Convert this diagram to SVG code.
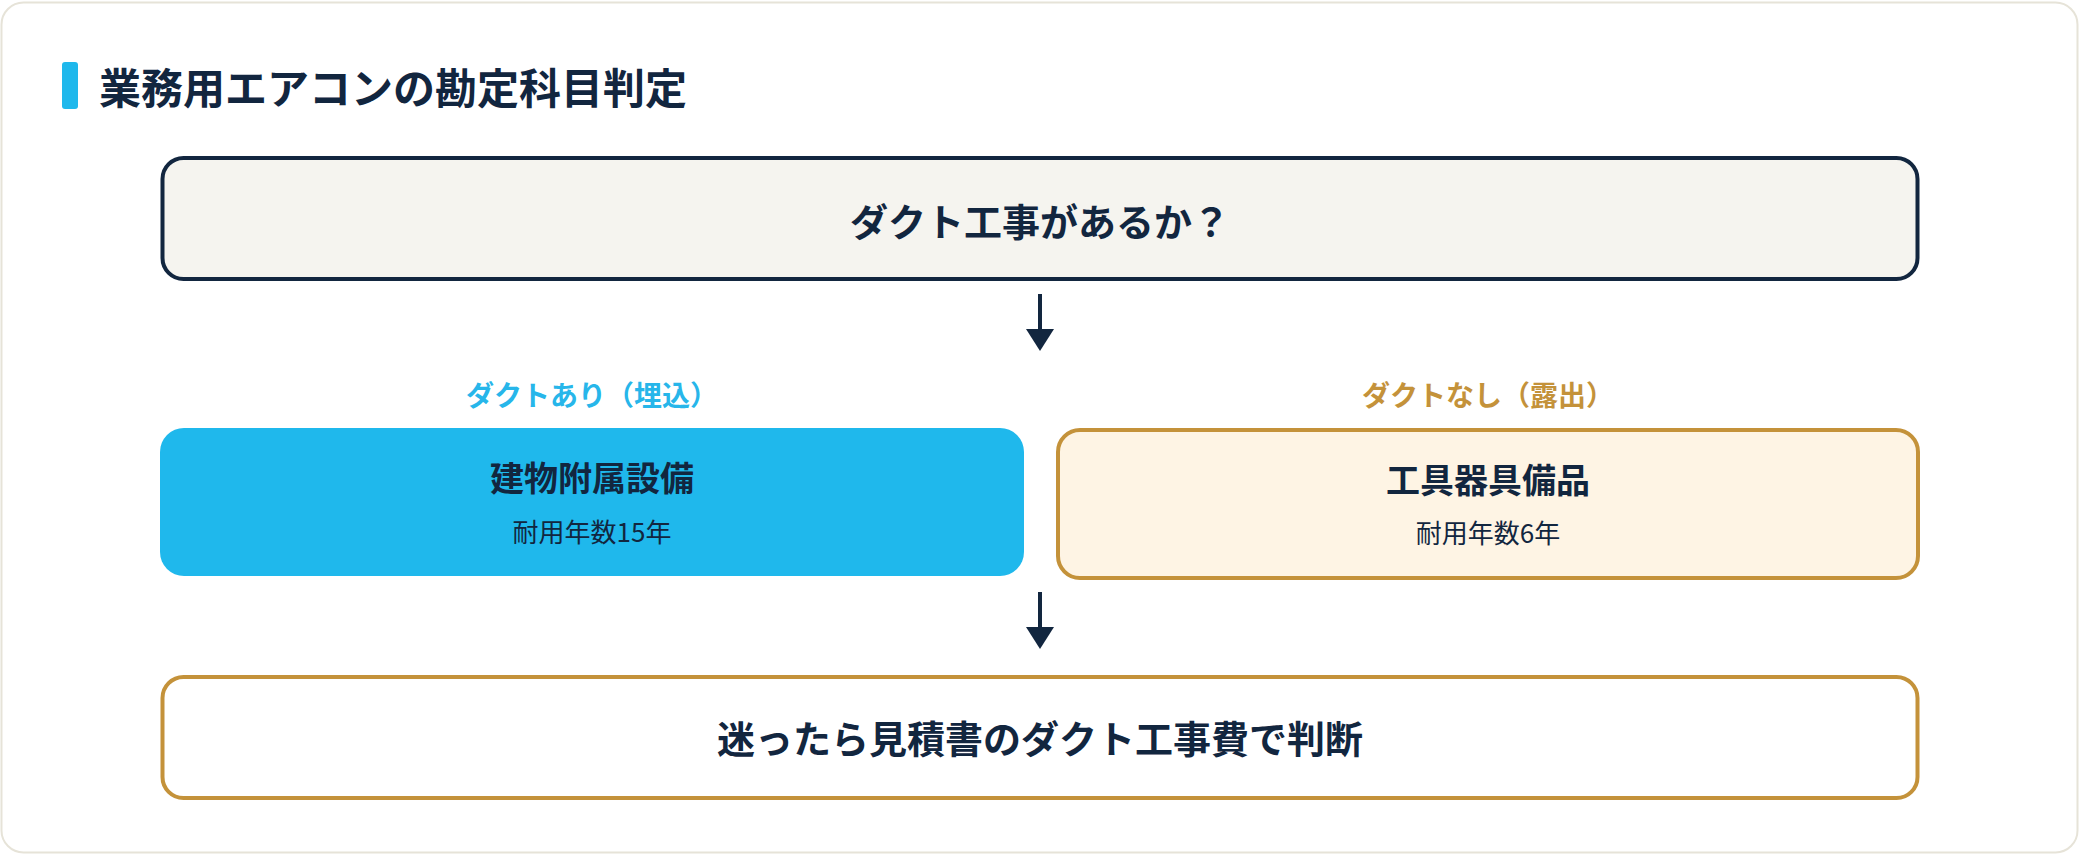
<svg xmlns="http://www.w3.org/2000/svg" width="2080" height="854" viewBox="0 0 2080 854">
  <defs>
    <style>
      .t { font-family: "Noto Sans CJK JP", "Noto Sans", sans-serif; fill: #12263f; text-anchor: middle; }
      .b { font-weight: 700; }
      .r { font-weight: 400; }
      .navyline { stroke: #12263f; stroke-width: 4; fill: none; }
    </style>
    <marker id="ah" viewBox="0 0 28 22" refX="14" refY="22" markerWidth="28" markerHeight="22" markerUnits="userSpaceOnUse" orient="auto-start-reverse">
      <path d="M0 0 L28 0 L14 22 Z" fill="#12263f"/>
    </marker>
  </defs>

  <rect x="1.5" y="2.5" width="2076" height="850" rx="22" fill="#ffffff" stroke="#e6e3d8" stroke-width="2"/>

  <g id="title">
    <rect x="62" y="62" width="16" height="47" rx="3" fill="#1fb8ec"/>
    <text class="t b" x="99" y="104" font-size="42" style="text-anchor:start">業務用エアコンの勘定科目判定</text>
  </g>

  <g id="question">
    <rect x="162.5" y="158" width="1755" height="121" rx="21" fill="#f5f4ef" stroke="#12263f" stroke-width="4"/>
    <text class="t b" x="1040" y="236" font-size="38">ダクト工事があるか？</text>
  </g>

  <g id="connectors">
    <line x1="1040" y1="294" x2="1040" y2="329" stroke="#12263f" stroke-width="4"/>
    <path d="M1026 329 L1054 329 L1040 351 Z" fill="#12263f"/>
    <line x1="1040" y1="592" x2="1040" y2="627" stroke="#12263f" stroke-width="4"/>
    <path d="M1026 627 L1054 627 L1040 649 Z" fill="#12263f"/>
  </g>

  <g id="label-left">
    <text class="t b" x="592" y="406" font-size="28" style="fill:#27b6ea">ダクトあり（埋込）</text>
  </g>
  <g id="label-right">
    <text class="t b" x="1488" y="406" font-size="28" style="fill:#c4923a">ダクトなし（露出）</text>
  </g>

  <g id="building">
    <rect x="160" y="428" width="864" height="148" rx="24" fill="#1fb8ec"/>
    <text class="t b" x="592" y="491" font-size="34">建物附属設備</text>
    <text class="t r" x="592" y="542" font-size="26">耐用年数15年</text>
  </g>

  <g id="equipment">
    <rect x="1058" y="430" width="860" height="148" rx="22" fill="#fef4e4" stroke="#c4923a" stroke-width="4"/>
    <text class="t b" x="1488" y="493" font-size="34">工具器具備品</text>
    <text class="t r" x="1488" y="543" font-size="26">耐用年数6年</text>
  </g>

  <g id="advice">
    <rect x="162.5" y="677" width="1755" height="121" rx="21" fill="#ffffff" stroke="#c4923a" stroke-width="4"/>
    <text class="t b" x="1040" y="753" font-size="38">迷ったら見積書のダクト工事費で判断</text>
  </g>
</svg>
